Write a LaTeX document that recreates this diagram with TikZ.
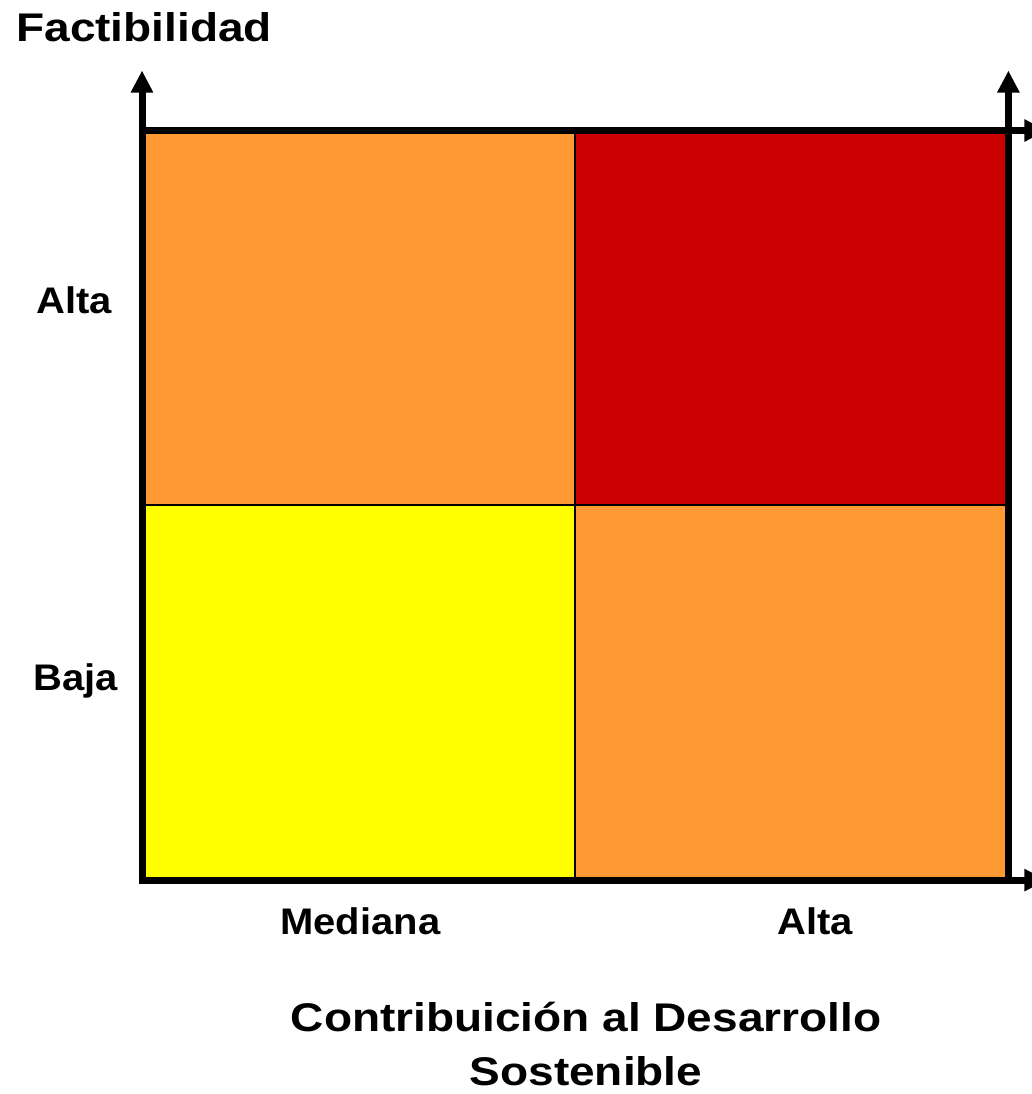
\documentclass[tikz,border=0pt]{standalone}
\usepackage{fontspec}
\setmainfont{Liberation Sans}
\newfontfamily\axisfont[FakeStretch=1.15]{Liberation Sans}
\newfontfamily\tickfont[FakeStretch=1.08]{Liberation Sans}
\usetikzlibrary{matrix, positioning, arrows.meta}

\definecolor{midorange}{HTML}{FF9933}
\definecolor{highred}{HTML}{CC0000}
\definecolor{lowyellow}{HTML}{FFFF00}

\begin{document}
\begin{tikzpicture}[x=0.5pt, y=-0.5pt,
    quad-arr/.style={matrix of nodes, nodes in empty cells, inner sep=0pt, row sep=-1pt, column sep=-1pt,
      nodes={draw, line width=1pt, minimum width=215.9pt, minimum height=186.7pt, inner sep=0pt, outer sep=0pt}},
    axisline/.style={line width=3.5pt, line join=miter},
    tip/.style={-{Triangle[width=10.5pt, length=11pt]}},
    bothtips/.style={{Triangle[width=10.5pt, length=11pt]}-{Triangle[width=10.5pt, length=11pt]}},
    axistext/.style={font=\axisfont\bfseries\fontsize{20}{27}\selectfont, inner sep=0pt},
    ticktext/.style={font=\tickfont\bfseries\fontsize{18.5}{22}\selectfont, inner sep=0pt, anchor=base west}
  ]
  \clip (0,0) rectangle (1032,1094);

%% 2x2 grid: feasibility (rows) against contribution (columns)
  \matrix (M) [quad-arr, anchor=north west] at (142,130.5) {
    |[fill=midorange]| & |[fill=highred]|   \\
    |[fill=lowyellow]| & |[fill=midorange]| \\
  };

%% axes
  \draw[axisline, bothtips] ([yshift=30pt]M.north west) -- (M.south west) -- ([xshift=19pt]M.south east);
  \draw[axisline, tip] (M.north west) -- ([xshift=19pt]M.north east);
  \draw[axisline, tip] (M.south east) -- ([yshift=30pt]M.north east);

%% labels
  \node[axistext, anchor=base west] (ylab) at (16,41) {Factibilidad};
  \node[ticktext] (yhigh) at (36,313) {Alta};
  \node[ticktext] (ylow) at (33,690) {Baja};
  \node[ticktext] (xmid) at (280,934) {Mediana};
  \node[ticktext] (xhigh) at (777,934) {Alta};
  \node[axistext, align=center, anchor=base] (xlab) at (586,1085) {Contribuición al Desarrollo\\Sostenible};

\end{tikzpicture}
\end{document}
